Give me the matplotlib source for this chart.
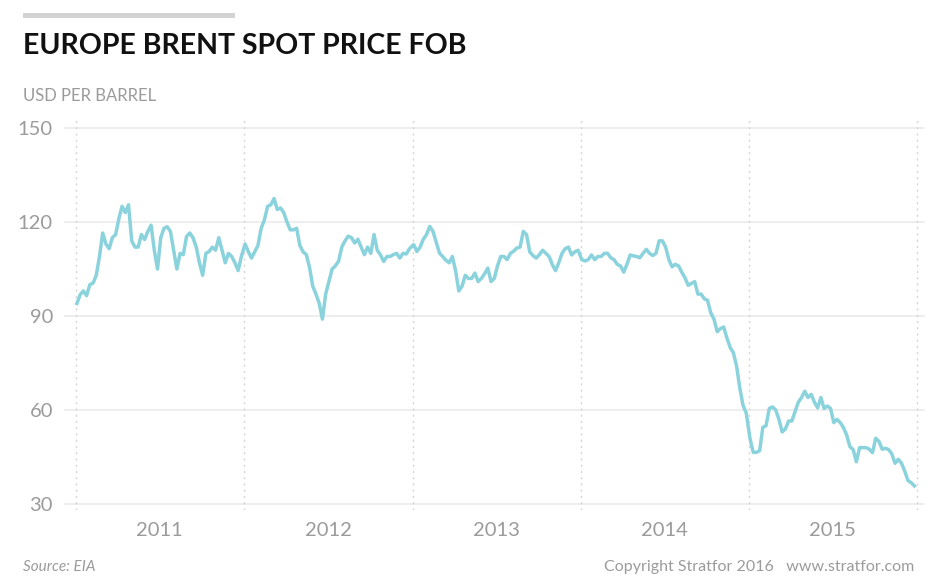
import matplotlib
matplotlib.use("Agg")
import matplotlib.pyplot as plt
import pandas as pd

# weekly Brent spot price readings (USD per barrel), one list per year
brent_2011 = [94, 96.8, 98, 96.5, 100, 100.5, 103, 109, 116.5, 113, 111.5, 115, 116,
              121, 125, 123, 125.5, 114, 112, 112, 116, 114.4, 117, 119, 111, 105,
              115, 118, 118.5, 117, 111, 105, 110, 109.6, 115.4, 116.5, 115, 112, 107,
              103, 110, 110.6, 112, 111, 115, 111, 107, 110, 109, 107, 104.5, 109]
brent_2012 = [113, 110.6, 108.5, 110.5, 112.5, 118, 120.7, 125, 125.5, 127.5, 124, 124.5,
              123, 120, 117.5, 117.5, 118, 112.5, 110.5, 109.6, 105.5, 99.5, 97, 94, 89,
              97, 101, 105, 106, 107.5, 112, 114, 115.5, 115, 113.3, 114.5, 112, 109.6,
              112, 110, 116, 111, 109.5, 107.4, 109, 109, 109.6, 110, 108.5, 110, 109.8, 111.5]
brent_2013 = [112.8, 110.6, 112, 114.5, 116, 118.6, 117, 113.5, 110.1, 109, 107.8, 107,
              109, 104.5, 98, 99.5, 103, 102, 102, 103.7, 101, 102, 103.5, 105.3, 101, 102,
              106, 109, 109, 108, 110, 110.7, 111.7, 112, 117, 116, 110.5, 109.3, 108.5,
              109.6, 111, 110, 109, 106.4, 104.5, 107, 110, 111.5, 112, 109.5, 110.5, 111]
brent_2014 = [108, 107.6, 108, 109.5, 108, 109, 109, 110, 110, 108.6, 108, 106.5, 106, 104,
              106.5, 109.5, 109.2, 109, 108.6, 110, 111.3, 110, 109.3, 110, 114, 114, 112,
              108, 105.7, 106.5, 106, 104, 102.2, 99.8, 100.4, 101, 97, 97, 95.5, 95, 91,
              89, 85, 86, 86.5, 83, 80, 78.3, 74, 67, 61.5, 59]
brent_2015 = [51, 46.5, 46.5, 47, 54.5, 55, 60.5, 61, 60, 57, 53, 54, 56.5, 56.5, 59.5,
              62.5, 64, 66, 64, 65, 62.5, 60.7, 64, 60.5, 61.3, 60.5, 56, 57, 56, 54.4, 52,
              48.3, 47.4, 43.5, 48, 48, 48, 47.5, 46.4, 51, 50, 47.5, 47.8, 47.4, 46, 43,
              44.3, 43, 40.5, 37.5, 36.8, 35.8]
years = [2011, 2012, 2013, 2014, 2015]
y_ticks = [30, 60, 90, 120, 150]

series = []
for yr, vals in zip(years, [brent_2011, brent_2012, brent_2013, brent_2014, brent_2015]):
    idx = pd.date_range(f"{yr}-01-03", periods=len(vals), freq="7D")
    series.append(pd.Series(vals, index=idx))
brent = pd.concat(series)

plt.rcParams["font.family"] = ["Lato", "DejaVu Sans"]
gray = "#9b9b9b"

fig = plt.figure(figsize=(9.4, 5.81), dpi=100)
ax = fig.add_axes([64 / 940, 71 / 581, 861 / 940, 392 / 581])

ax.plot(brent.index, brent.values, color="#8ad3dd", lw=2.5, solid_joinstyle="round")

ax.set_ylim(28.1, 153.2)
ax.set_xlim(pd.Timestamp("2010-12-06"), pd.Timestamp("2016-01-18"))
ax.set_yticks(y_ticks)
for v in y_ticks:
    ax.axhline(v, color="#eeeeee", lw=1.4, zorder=0)
for yr in years + [2016]:
    ax.axvline(pd.Timestamp(f"{yr}-01-01"), color="#d5d5d5", lw=1, ls=(0, (1.5, 3)), zorder=0)

ax.set_xticks([pd.Timestamp(f"{yr}-07-02") for yr in years])
ax.set_xticklabels([str(yr) for yr in years])
ax.tick_params(axis="both", length=0, labelcolor=gray, labelsize=14.5)
ax.tick_params(axis="y", pad=8)
ax.tick_params(axis="x", pad=9)
for s in ax.spines.values():
    s.set_visible(False)

fig.patches.append(plt.Rectangle((23 / 940, 1 - 17.5 / 581), 212 / 940, 4.5 / 581,
                                 transform=fig.transFigure, color="#d3d3d3", lw=0))
fig.text(23 / 940, 1 - 46 / 581, "EUROPE BRENT SPOT PRICE FOB", fontsize=20.5,
         weight="bold", color="#111111", va="center")
fig.text(23 / 940, 1 - 96 / 581, "USD PER BARREL", fontsize=12, color=gray, va="center")
fig.text(23 / 940, 1 - 567 / 581, "Source: EIA", fontsize=11, style="italic",
         color=gray, va="center")
fig.text(914 / 940, 1 - 567 / 581, "Copyright Stratfor 2016   www.stratfor.com",
         fontsize=11.5, color=gray, va="center", ha="right")

fig.savefig("out.png", dpi=100, facecolor="white")
